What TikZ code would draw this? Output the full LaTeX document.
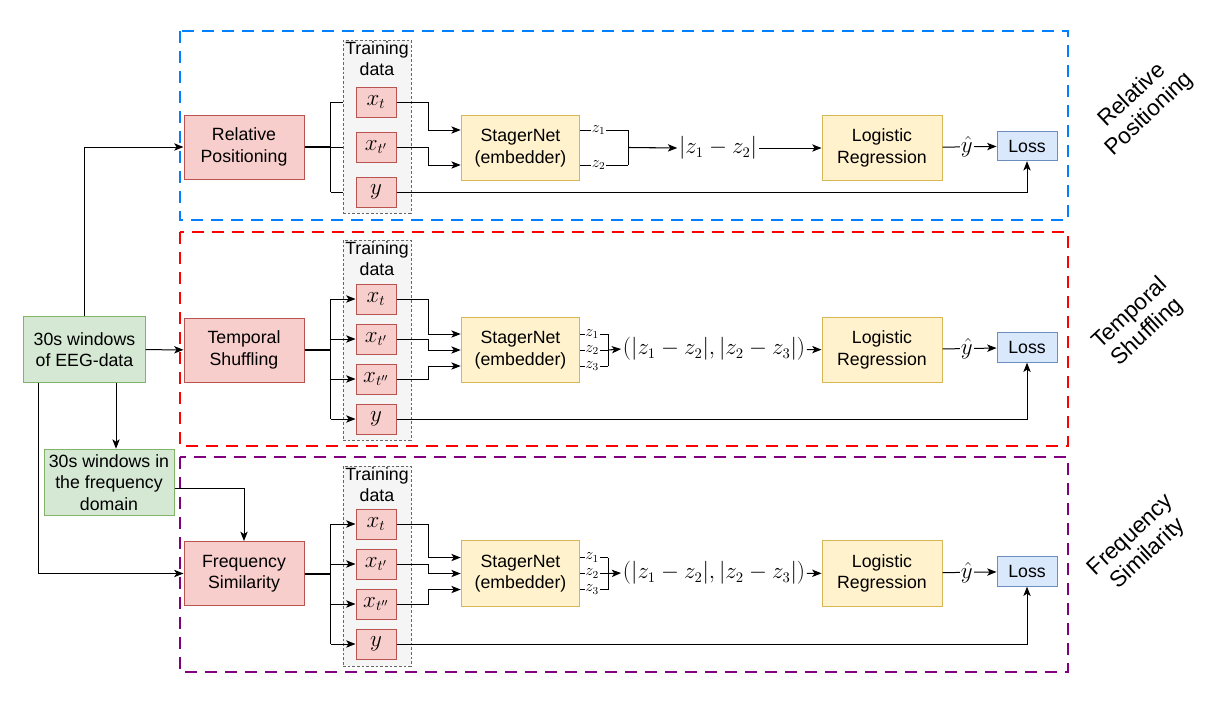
\documentclass[tikz,border=0pt]{standalone}
\usepackage[no-math]{fontspec}
\setmainfont{Liberation Sans}
\usepackage{tikz}
\usetikzlibrary{calc, positioning, arrows.meta}

\definecolor{redfill}{HTML}{F8CECC}
\definecolor{redline}{HTML}{B85450}
\definecolor{yelfill}{HTML}{FFF2CC}
\definecolor{yelline}{HTML}{D6B656}
\definecolor{grnfill}{HTML}{D5E8D4}
\definecolor{grnline}{HTML}{82B366}
\definecolor{blufill}{HTML}{DAE8FC}
\definecolor{bluline}{HTML}{6C8EBF}
\definecolor{panelblue}{HTML}{007FFF}
\definecolor{panelred}{HTML}{FF0000}
\definecolor{panelpurple}{HTML}{800080}

\tikzset{
  redbox/.style={draw=redline, fill=redfill, minimum width=90pt, minimum height=48pt, align=center},
  smallbox/.style={draw=redline, fill=redfill, minimum width=30pt, minimum height=22.5pt, inner sep=0pt, font=\fontsize{16}{19}\selectfont},
  yelbox/.style={draw=yelline, fill=yelfill, minimum width=90pt, minimum height=49pt, align=center},
  grnbox/.style={draw=grnline, fill=grnfill, minimum width=91pt, minimum height=49pt, align=center, inner sep=2pt},
  lossbox/.style={draw=bluline, fill=blufill, minimum width=45pt, minimum height=22pt},
  databox/.style={draw=black!60, fill=black!4, dash pattern=on 2pt off 1.5pt, minimum width=51pt},
  panel/.style={dash pattern=on 9pt off 6pt, line width=0.8pt},
  zlab/.style={fill=white, inner sep=0.5pt, font=\fontsize{12}{14}\selectfont},
  yhat/.style={fill=white, inner sep=1pt, font=\fontsize{16}{19}\selectfont},
  diffn/.style={inner sep=1pt, font=\fontsize{16}{19}\selectfont},
  trunk/.style={line width=1.5pt},
  sidelab/.style={rotate=43, align=center, font=\fontsize{17}{19}\selectfont},
  wire/.style={line width=0.75pt}
}

\begin{document}
\begin{tikzpicture}[x=0.75pt, y=-0.75pt, >={Stealth[length=7pt, width=5.5pt, inset=1.8pt]}, font=\fontsize{13.3}{16}\selectfont, wire]
\useasboundingbox (0,0) rectangle (1212,725);

% panels
\draw[panel, draw=panelblue] (180,31) rectangle (1068,220);
\draw[panel, draw=panelred] (180,232) rectangle (1068,446);
\draw[panel, draw=panelpurple] (180,457) rectangle (1068,672);

\node[sidelab] (lab1) at (1141,105) {Relative\\Positioning};
\node[sidelab] (lab2) at (1139,323) {Temporal\\Shuffling};
\node[sidelab] (lab3) at (1140,545) {Frequency\\Similarity};

% inputs
\node[grnbox] (eeg) at (84.5,349.5) {30s windows\\of EEG-data};
\node[grnbox, minimum width=97.5pt, minimum height=50pt] (freq) at (109,482.5) {30s windows in\\the frequency\\domain};

% tasks
\node[redbox] (rp) at (244,147) {Relative\\Positioning};
\node[redbox] (ts) at (244,350) {Temporal\\Shuffling};
\node[redbox] (fs) at (244,573.5) {Frequency\\Similarity};

\coordinate (fq) at ($(eeg.south)+(31.5,0)$);
\coordinate (fb) at ($(eeg.south)+(-46.5,0)$);
\draw[->] (eeg.north) |- (rp.west);
\draw[->] (eeg) -- (ts);
\draw[->] (fq) -- (fq |- freq.north);
\draw[->] (fb) |- (fs.west);
\draw[->] ($(freq.east)+(0,6)$) -| (fs.north);

% relative positioning
\draw[trunk] (rp.east) -- ++(26,0) coordinate (br1);
\draw (br1 |- 0,102) -- (br1 |- 0,192);
\foreach \yy in {102,147,192} \draw (br1 |- 0,\yy) -- (343,\yy);
\node[databox, minimum height=129.75pt] (td1) at (377,126.5) {};
\node[anchor=north, align=center, inner sep=1pt] at (td1.north) {Training\\data};
\node[smallbox] (xa1) at (376,102) {$x_t$};
\node[smallbox] (xb1) at (376,147) {$x_{t'}$};
\node[smallbox] (ya1) at (376,192) {$y$};

\node[yelbox, minimum width=89pt] (sn1) at (520.5,148) {StagerNet\\(embedder)};
\draw[->] (xa1.east) -- ++(32,0) |- ($(sn1.west)+(0,-18)$);
\draw[->] (xb1.east) -- ++(32,0) |- ($(sn1.west)+(0,17)$);

\draw ($(sn1.east)+(0,-18)$) -- node[zlab, pos=0.38] {$z_1$} ++(48,0) coordinate (ja1);
\draw ($(sn1.east)+(0,17)$) -- node[zlab, pos=0.38] {$z_2$} ++(48,0) coordinate (jb1);
\draw (ja1) -- (jb1);
\node[diffn] (df1) at (718,148) {$|z_1 - z_2|$};
\draw[->, thick] ($(ja1)!0.5!(jb1)$) -- (df1.west);

\node[yelbox] (lr1) at (882,148) {Logistic\\Regression};
\node[lossbox] (loss1) at (1027,146) {Loss};
\draw[->] (df1) -- (lr1);
\draw[->] (lr1) -- node[yhat, pos=0.45] {$\hat{y}$} (loss1);
\draw[->] (ya1.east) -| (loss1.south);

% temporal shuffling
\node[databox, minimum height=150pt] (td2) at (377,340) {};
\node[anchor=north, align=center, inner sep=1pt] at (td2.north) {Training\\data};
\node[smallbox] (xa2) at (376,299) {$x_t$};
\node[smallbox] (xb2) at (376,339) {$x_{t'}$};
\node[smallbox] (xc2) at (376,379) {$x_{t''}$};
\node[smallbox] (ya2) at (376,419) {$y$};
\draw[trunk] (ts.east) -- ++(26,0) coordinate (br2);
\draw (br2 |- xa2) -- (br2 |- ya2);
\foreach \nn in {xa2,xb2,xc2,ya2} \draw[->] (br2 |- \nn) -- (\nn.west);

\node[yelbox, minimum width=89pt] (sn2) at (520.5,350) {StagerNet\\(embedder)};
\draw[->] (xa2.east) -- ++(32,0) |- ($(sn2.west)+(0,-16)$);
\draw[->] (xb2.east) -- ++(32,0) |- (sn2.west);
\draw[->] (xc2.east) -- ++(32,0) |- ($(sn2.west)+(0,16)$);

\draw ($(sn2.east)+(0,-16)$) -- node[zlab, pos=0.42] {$z_1$} ++(28,0) coordinate (ja2);
\draw (sn2.east) -- node[zlab, pos=0.42] {$z_2$} ++(28,0) coordinate (jb2);
\draw ($(sn2.east)+(0,16)$) -- node[zlab, pos=0.42] {$z_3$} ++(28,0) coordinate (jc2);
\draw (ja2) -- (jc2);
\node[diffn] (df2) at (714,349) {$(|z_1 - z_2|, |z_2 - z_3|)$};
\draw[->, thick] (jb2) -- (df2.west);

\node[yelbox] (lr2) at (882,350) {Logistic\\Regression};
\node[lossbox] (loss2) at (1027,347.5) {Loss};
\draw[->] (df2) -- (lr2);
\draw[->] (lr2) -- node[yhat, pos=0.45] {$\hat{y}$} (loss2);
\draw[->] (ya2.east) -| (loss2.south);

% frequency similarity
\node[databox, minimum height=150pt] (td3) at (377,566) {};
\node[anchor=north, align=center, inner sep=1pt] at (td3.north) {Training\\data};
\node[smallbox] (xa3) at (376,524) {$x_t$};
\node[smallbox] (xb3) at (376,564) {$x_{t'}$};
\node[smallbox] (xc3) at (376,604) {$x_{t''}$};
\node[smallbox] (ya3) at (376,644) {$y$};
\draw[trunk] (fs.east) -- ++(26,0) coordinate (br3);
\draw (br3 |- xa3) -- (br3 |- ya3);
\foreach \nn in {xa3,xb3,xc3,ya3} \draw[->] (br3 |- \nn) -- (\nn.west);

\node[yelbox, minimum width=89pt] (sn3) at (520.5,573.5) {StagerNet\\(embedder)};
\draw[->] (xa3.east) -- ++(32,0) |- ($(sn3.west)+(0,-16)$);
\draw[->] (xb3.east) -- ++(32,0) |- (sn3.west);
\draw[->] (xc3.east) -- ++(32,0) |- ($(sn3.west)+(0,16)$);

\draw ($(sn3.east)+(0,-16)$) -- node[zlab, pos=0.42] {$z_1$} ++(28,0) coordinate (ja3);
\draw (sn3.east) -- node[zlab, pos=0.42] {$z_2$} ++(28,0) coordinate (jb3);
\draw ($(sn3.east)+(0,16)$) -- node[zlab, pos=0.42] {$z_3$} ++(28,0) coordinate (jc3);
\draw (ja3) -- (jc3);
\node[diffn] (df3) at (714,573) {$(|z_1 - z_2|, |z_2 - z_3|)$};
\draw[->, thick] (jb3) -- (df3.west);

\node[yelbox] (lr3) at (882,573.5) {Logistic\\Regression};
\node[lossbox] (loss3) at (1027,571.5) {Loss};
\draw[->] (df3) -- (lr3);
\draw[->] (lr3) -- node[yhat, pos=0.45] {$\hat{y}$} (loss3);
\draw[->] (ya3.east) -| (loss3.south);
\end{tikzpicture}
\end{document}
